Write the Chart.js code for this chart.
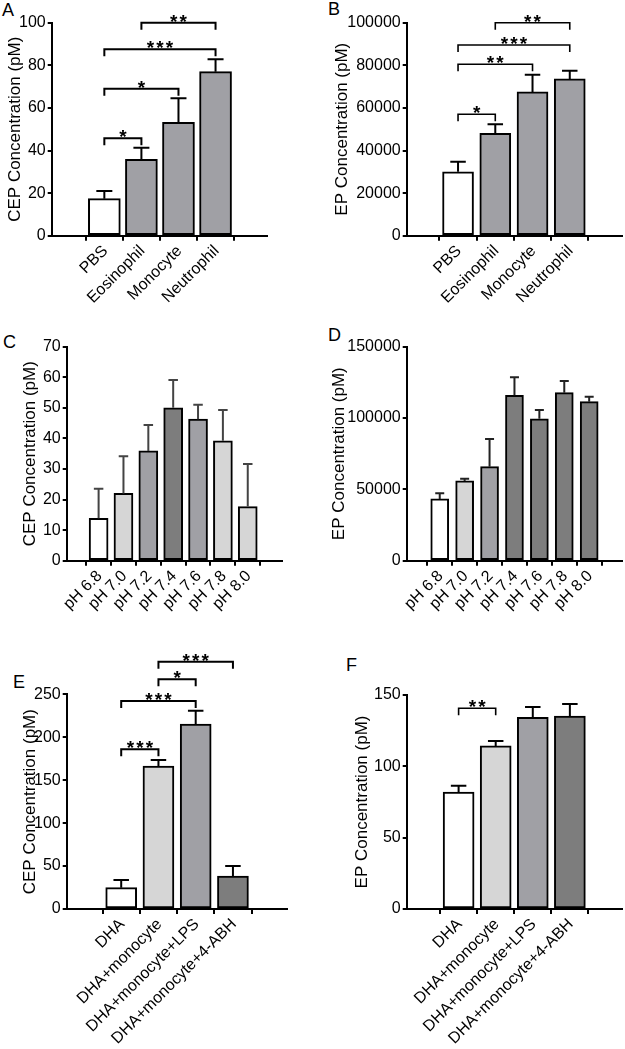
<!DOCTYPE html>
<html>
<head>
<meta charset="utf-8">
<script src="https://cdn.jsdelivr.net/npm/chart.js"></script>
<style>
  body { margin:0; background:#fff; width:625px; height:1049px; position:relative; overflow:hidden;
         font-family:"Liberation Sans", Arial, sans-serif; }
  canvas { position:absolute; }
  .tag { position:absolute; font-size:18px; line-height:1; color:#000; }
</style>
</head>
<body>
<div class="tag" style="left:2px;top:1px">A</div>
<div class="tag" style="left:328px;top:0px">B</div>
<div class="tag" style="left:3px;top:333px">C</div>
<div class="tag" style="left:328px;top:326px">D</div>
<div class="tag" style="left:13px;top:673px">E</div>
<div class="tag" style="left:346px;top:656px">F</div>

<script>
// ===== dados
const cellTypes = ['PBS', 'Eosinophil', 'Monocyte', 'Neutrophil'];
const phLevels  = ['pH 6.8', 'pH 7.0', 'pH 7.2', 'pH 7.4', 'pH 7.6', 'pH 7.8', 'pH 8.0'];
const dhaGroups = ['DHA', 'DHA+monocyte', 'DHA+monocyte+LPS', 'DHA+monocyte+4-ABH'];

// A - CEP por tipo celular
const cepCells    = [17.4, 35.9, 53.2, 77.0];
const cepCellsErr = [3.6, 5.4, 11.3, 5.8];
// B - EP por tipo celular
const epCells     = [30000, 48100, 67500, 73600];
const epCellsErr  = [4700, 4200, 8100, 3900];
// C - CEP por pH
const cepPh       = [13.9, 22.0, 35.9, 50.0, 46.3, 39.2, 17.7];
const cepPhErr    = [9.6, 12.2, 8.5, 9.1, 4.7, 10.1, 13.9];
// D - EP por pH
const epPh        = [43300, 55900, 65900, 115900, 99500, 117800, 111500];
const epPhErr     = [3900, 1600, 19400, 12700, 6100, 8200, 3500];
// E - CEP DHA
const cepDha      = [24.8, 166.5, 215.4, 38.4];
const cepDhaErr   = [9.0, 7.0, 15.5, 11.7];
// F - EP DHA
const epDha       = [82.0, 114.3, 134.3, 135.3];
const epDhaErr    = [4.4, 3.5, 7.3, 8.4];

// significancia: [de, ate, nivel, estrelas]
const sigA = [[0, 1, 45.7, '*'], [0, 2, 69.0, '*'], [0, 3, 87.5, '***'], [1, 3, 100, '**']];
const sigB = [[0, 1, 57000, '*'], [0, 2, 80500, '**'], [0, 3, 89500, '***'], [1, 3, 100000, '**']];
const sigE = [[0, 1, 186, '***'], [0, 2, 242.2, '***'], [1, 2, 267.5, '*'], [1, 3, 288, '***']];
const sigF = [[0, 1, 140.7, '**']];

// ===== paleta
const WHITE = '#ffffff', LIGHT = '#d6d6d6', GRAY = '#a0a0a5', DARK = '#7d7d7d';
const FONT = '"Liberation Sans", Arial, sans-serif';
Chart.defaults.font.family = FONT;
Chart.defaults.color = '#000';

// plugin: barras de erro + colchetes de significancia
function overlay(errs, sig, errColor, sigWidth) {
  return {
    id: 'overlay',
    afterDatasetsDraw(chart) {
      const { ctx, scales: { x, y } } = chart;
      const meta = chart.getDatasetMeta(0);
      const pts = chart.data.datasets[0].data;
      ctx.save();
      ctx.strokeStyle = errColor;
      ctx.lineWidth = 2;
      pts.forEach((p, i) => {
        const px = x.getPixelForValue(p.x);
        const y0 = y.getPixelForValue(p.y);
        const y1 = y.getPixelForValue(p.y + errs[i]);
        const cap = meta.data[i].width / 2;
        ctx.beginPath();
        ctx.moveTo(px, y0); ctx.lineTo(px, y1);
        ctx.moveTo(px - cap / 2, y1); ctx.lineTo(px + cap / 2, y1);
        ctx.stroke();
      });
      ctx.strokeStyle = '#000';
      ctx.fillStyle = '#000';
      ctx.lineWidth = sigWidth;
      ctx.font = 'bold 19px ' + FONT;
      ctx.textAlign = 'center';
      ctx.textBaseline = 'alphabetic';
      sig.forEach(([a, b, lvl, stars]) => {
        const xa = x.getPixelForValue(a), xb = x.getPixelForValue(b);
        const yy = y.getPixelForValue(lvl);
        ctx.beginPath();
        ctx.moveTo(xa, yy + 7); ctx.lineTo(xa, yy); ctx.lineTo(xb, yy); ctx.lineTo(xb, yy + 7);
        ctx.stroke();
        const cx = (xa + xb) / 2, n = stars.length;
        for (let k = 0; k < n; k++) ctx.fillText('*', cx + (k - (n - 1) / 2) * 9.5, yy + 5);
      });
      ctx.restore();
    }
  };
}

function panel(p) {
  const cv = document.createElement('canvas');
  cv.width = p.w; cv.height = p.h;
  cv.style.left = p.left + 'px'; cv.style.top = p.top + 'px';
  document.body.appendChild(cv);

  const padL = p.titleX - p.left - 14.2;
  const axisLine = { display: true, color: '#000', width: 2 };
  const tickGrid = (len) => ({ display: true, drawOnChartArea: false, drawTicks: true, tickLength: len, color: '#000', lineWidth: 2 });

  new Chart(cv.getContext('2d'), {
    type: 'bar',
    data: {
      datasets: [{
        data: p.vals.map((v, i) => ({ x: i, y: v })),
        backgroundColor: p.colors,
        borderColor: '#000',
        borderWidth: 2,
        borderSkipped: false,
        barThickness: p.barW
      }]
    },
    options: {
      responsive: false,
      animation: false,
      events: [],
      layout: { padding: { left: padL, top: p.yTop - p.top, right: p.left + p.w - p.xRight, bottom: 0 } },
      plugins: { legend: { display: false }, tooltip: { enabled: false } },
      scales: {
        x: {
          type: 'linear', min: p.xMin, max: p.xMax,
          afterBuildTicks: s => { s.ticks = p.cats.map((c, i) => ({ value: i })); },
          afterFit: s => { s.height = p.top + p.h - p.yBot; },
          ticks: { autoSkip: false, minRotation: 45, maxRotation: 45, padding: 1, labelOffset: 1,
                   font: { size: 16 }, color: '#000', callback: v => p.cats[v] },
          grid: tickGrid(5),
          border: axisLine
        },
        y: {
          min: 0, max: p.yMax,
          afterFit: s => { s.width = p.axisX - p.left - padL; },
          ticks: { stepSize: p.yStep, padding: 2, font: { size: 16 }, color: '#000', callback: v => String(v) },
          title: { display: true, text: p.title, color: '#000', font: { size: 17 } },
          grid: tickGrid(4),
          border: axisLine
        }
      }
    },
    plugins: [overlay(p.errs, p.sig || [], p.errColor, p.sigW)]
  });
}

// ===== paineis
panel({ left: 0, top: 0, w: 310, h: 330, axisX: 51.7, yTop: 22.7, yBot: 235.7, xRight: 267, titleX: 15,
  xMin: -0.694, xMax: 3.662, barW: 32, cats: cellTypes, vals: cepCells, errs: cepCellsErr,
  colors: [WHITE, GRAY, GRAY, GRAY], yMax: 100, yStep: 20, title: 'CEP Concentration (pM)',
  sig: sigA, errColor: '#000', sigW: 2 });

panel({ left: 310, top: 0, w: 315, h: 330, axisX: 406.7, yTop: 22.7, yBot: 235.7, xRight: 622, titleX: 342,
  xMin: -0.656, xMax: 3.68, barW: 31, cats: cellTypes, vals: epCells, errs: epCellsErr,
  colors: [WHITE, GRAY, GRAY, GRAY], yMax: 100000, yStep: 20000, title: 'EP Concentration (pM)',
  sig: sigB, errColor: '#000', sigW: 1.6 });

panel({ left: 0, top: 330, w: 310, h: 310, axisX: 66.7, yTop: 346.7, yBot: 560.7, xRight: 281.7, titleX: 30,
  xMin: -0.666, xMax: 6.748, barW: 19, cats: phLevels, vals: cepPh, errs: cepPhErr,
  colors: [WHITE, LIGHT, GRAY, DARK, GRAY, LIGHT, LIGHT], yMax: 70, yStep: 10, title: 'CEP Concentration (pM)',
  errColor: '#444', sigW: 2 });

panel({ left: 310, top: 330, w: 315, h: 310, axisX: 406.7, yTop: 346.7, yBot: 560.7, xRight: 622, titleX: 339,
  xMin: -0.709, xMax: 6.7, barW: 18, cats: phLevels, vals: epPh, errs: epPhErr,
  colors: [WHITE, LIGHT, GRAY, DARK, DARK, DARK, DARK], yMax: 150000, yStep: 50000, title: 'EP Concentration (pM)',
  errColor: '#222', sigW: 2 });

panel({ left: 0, top: 640, w: 310, h: 409, axisX: 66.7, yTop: 694.3, yBot: 909, xRight: 286.7, titleX: 30,
  xMin: -0.725, xMax: 3.705, barW: 31, cats: dhaGroups, vals: cepDha, errs: cepDhaErr,
  colors: [WHITE, LIGHT, GRAY, DARK], yMax: 250, yStep: 50, title: 'CEP Concentration (pM)',
  sig: sigE, errColor: '#000', sigW: 2 });

panel({ left: 310, top: 650, w: 315, h: 399, axisX: 406.7, yTop: 695, yBot: 909, xRight: 622, titleX: 362.5,
  xMin: -0.674, xMax: 3.68, barW: 31, cats: dhaGroups, vals: epDha, errs: epDhaErr,
  colors: [WHITE, LIGHT, GRAY, DARK], yMax: 150, yStep: 50, title: 'EP Concentration (pM)',
  sig: sigF, errColor: '#000', sigW: 1.6 });
</script>
</body>
</html>
